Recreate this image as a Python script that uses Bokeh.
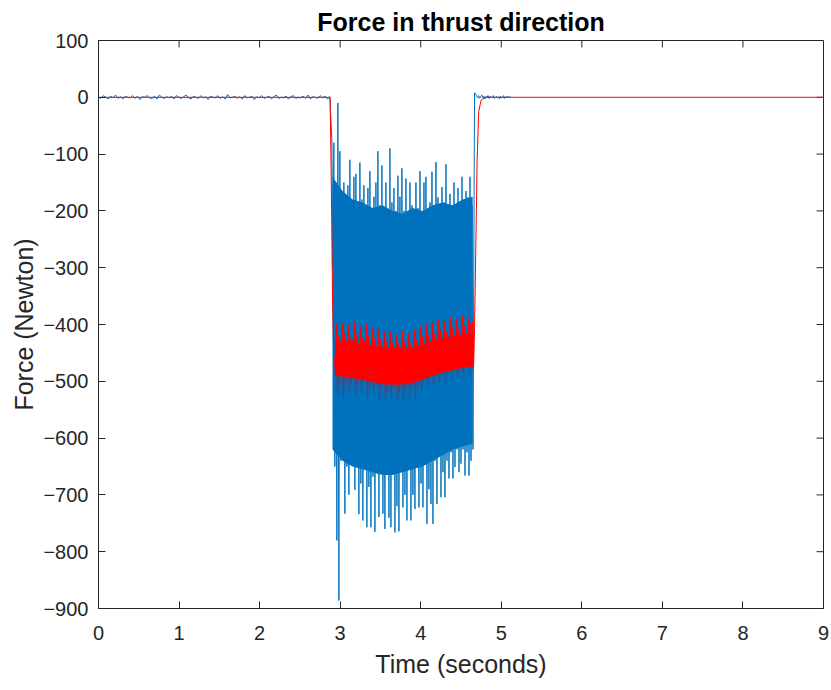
import numpy as np
from bokeh.plotting import figure
from bokeh.models import Range1d, FixedTicker
from bokeh.embed import file_html
from bokeh.resources import INLINE

# ---------------- data ----------------
x_ticks = [0, 1, 2, 3, 4, 5, 6, 7, 8, 9]
y_ticks = [-900, -800, -700, -600, -500, -400, -300, -200, -100, 0, 100]

# blue (raw) signal: rest period before the thrust
blue_pre_v = [1, -2, 3, 0, -3, 2, -1, 4, -2, 1, -3, 2, 0, -1, 3, -2, 2, -4, 1, 0,
              3, -1, -2, 2, -3, 4, 0, -2, 1, -1, 2, -3, 3, 0, -2, 1, 4, -1, -3, 2,
              0, -2, 3, -1, 1, -4, 2, 0, -1, 3, -2, 1, -3, 5, -1, 0, 2, -2, 1, -3,
              3, -1, 0, 2, -4, 1, -1, 3, -2, 0, 2, -3, 1, 4, -2, 0, -1, 2, -3, 1,
              3, -2, 0, -1, 2, -2, 4, -3, 1, 0, -2, 3, -1, 2, -3, 1]
blue_pre_span = [0.0, 2.872]

# blue signal during the thrust: successive peaks (hi) and troughs (lo)
blue_hi = [-75, -80, -185, -10, -95, -190, -150, -205, -155, -110, -200, -140, -135, -195,
           -115, -180, -155, -210, -160, -130, -200, -175, -150, -95, -190, -120, -205, -150,
           -230, -90, -185, -160, -200, -138, -175, -125, -200, -143, -210, -150, -190, -245,
           -150, -195, -130, -215, -150, -140, -240, -185, -131, -200, -114, -176, -205, -158,
           -185, -118, -200, -170, -190, -150, -210, -160, -195, -140, -200, -165, -176, -140,
           -190]
blue_lo = [-300, -650, -780, -886, -640, -620, -733, -650, -700, -640, -643, -691, -650, -734,
           -680, -745, -640, -757, -686, -757, -668, -765, -662, -739, -650, -733, -760, -645,
           -740, -757, -655, -766, -720, -764, -650, -722, -700, -745, -650, -745, -700, -725,
           -640, -722, -680, -722, -640, -751, -690, -716, -751, -640, -716, -630, -704, -660,
           -704, -640, -671, -625, -671, -651, -620, -660, -645, -620, -666, -625, -666, -640,
           -620]
blue_thrust_span = [2.897, 4.649]

# solid part of the blue oscillation (where the trace is densely filled)
blue_band_top = [-140, -165, -180, -185, -195, -190, -200, -205, -195, -200, -190, -185,
                 -190, -180, -175]
blue_band_bot = [-620, -640, -650, -655, -660, -665, -665, -660, -655, -650, -640, -630,
                 -620, -615, -610]
blue_band_span = [2.905, 4.645]

# blue signal after the thrust
blue_post_v = [8, 6, 2, -1, 3, -2, 1, 4, -1, 2, -3, 1, 0, 3, -2, 2, -1, 1, 3, -2,
               0, 2, -1, 1, -3, 2, 0, -1, 3, -2, 1, 0, 2, -1, 1, 0]
blue_post_span = [4.668, 5.12]

# red (filtered) signal
red_pre_t = [0.0, 2.875]
red_pre_v = [0, 0]
red_drop_t = [2.89, 2.905, 2.92]
red_drop_v = [-150, -350, -460]
red_hi = [-460, -400, -420, -432, -398, -415, -430, -402, -425, -428, -396, -418, -435, -404,
          -422, -430, -400, -419, -436, -407, -425, -438,
          -410, -428, -442, -414, -430, -445, -412, -432, -440, -418, -435, -446, -413, -429,
          -441, -416, -433, -444, -408, -426, -438,
          -404, -421, -434, -400, -418, -430, -397, -415, -428, -392, -410, -425, -394, -412,
          -424, -388, -405, -420, -390, -408, -418, -385, -402, -415, -388, -400, -395]
red_lo = [-490, -525, -505, -488, -530, -508, -492, -522, -503, -486, -527, -510, -494, -520,
          -500, -490, -528, -512, -495, -524, -506, -492,
          -532, -515, -500, -536, -518, -504, -530, -512, -498, -538, -520, -506, -534, -516,
          -502, -533, -514, -500, -528, -510, -497,
          -518, -500, -488, -512, -496, -482, -510, -494, -480, -505, -490, -476, -502, -486,
          -474, -498, -484, -470, -495, -480, -468, -492, -476, -466, -488, -472, -478]
red_thrust_span = [2.93, 4.655]
red_rise_t = [4.665, 4.68, 4.70, 4.72, 4.75, 4.80, 9.0]
red_rise_v = [-430, -300, -110, -25, -5, 0, 0]

# solid part of the red band
red_band_top = [-430, -430, -432, -435, -438, -440, -442, -442, -440, -436, -430, -424,
                -420, -418, -416]
red_band_bot = [-490, -492, -495, -498, -502, -505, -506, -505, -502, -496, -490, -484,
                -480, -476, -474]
red_band_span = [2.935, 4.65]

# ---------------- assemble series ----------------
blue_thrust_v = [v for pair in zip(blue_hi, blue_lo) for v in pair]
blue_t = np.concatenate([
    np.linspace(blue_pre_span[0], blue_pre_span[1], len(blue_pre_v)),
    np.linspace(blue_thrust_span[0], blue_thrust_span[1], len(blue_thrust_v)),
    np.linspace(blue_post_span[0], blue_post_span[1], len(blue_post_v)),
])
blue_v = np.array(blue_pre_v + blue_thrust_v + blue_post_v, dtype=float)
blue_band_t = np.linspace(blue_band_span[0], blue_band_span[1], len(blue_band_top))

red_thrust_v = [v for pair in zip(red_hi, red_lo) for v in pair]
red_t = np.concatenate([
    np.array(red_pre_t), np.array(red_drop_t),
    np.linspace(red_thrust_span[0], red_thrust_span[1], len(red_thrust_v)),
    np.array(red_rise_t),
])
red_v = np.array(red_pre_v + red_drop_v + red_thrust_v + red_rise_v, dtype=float)
red_band_t = np.linspace(red_band_span[0], red_band_span[1], len(red_band_top))

# ---------------- figure ----------------
FONT = "Liberation Sans"
TXT = "#262626"
BLUE = "#0072BD"
RED = "#FF0000"
W, H = 831, 690
BL, BR, BT, BB = 98, 8, 40, 82
X0, X1, Y0, Y1 = 0, 9, -900, 100

p = figure(width=W, height=H, output_backend="svg", toolbar_location=None,
           x_range=Range1d(X0, X1), y_range=Range1d(Y0, Y1),
           min_border_left=BL, min_border_right=BR, min_border_top=BT, min_border_bottom=BB,
           background_fill_color="white", border_fill_color="white")

p.title.text = "Force in thrust direction"
p.title.align = "center"
p.title.text_font = FONT
p.title.text_font_size = "25px"
p.title.text_font_style = "bold"
p.title.text_color = "#000000"
p.title.standoff = 10

p.xgrid.visible = False
p.ygrid.visible = False
p.outline_line_color = TXT
p.outline_line_width = 1

TICK = 7
for ax, ticks in ((p.xaxis[0], x_ticks), (p.yaxis[0], y_ticks)):
    ax.ticker = FixedTicker(ticks=ticks)
    ax.major_tick_in = TICK
    ax.major_tick_out = 0
    ax.minor_tick_in = 0
    ax.minor_tick_out = 0
    ax.axis_line_color = TXT
    ax.major_tick_line_color = TXT
    ax.major_label_text_font = FONT
    ax.major_label_text_font_size = "20px"
    ax.major_label_text_color = TXT
    ax.axis_label_text_font = FONT
    ax.axis_label_text_font_size = "25px"
    ax.axis_label_text_font_style = "normal"
    ax.axis_label_text_color = TXT

p.xaxis.axis_label = "Time (seconds)"
p.yaxis.axis_label = "Force (Newton)"
p.xaxis.major_label_standoff = 17
p.yaxis.major_label_standoff = 10
p.xaxis.axis_label_standoff = 7
p.yaxis.axis_label_standoff = 2

# inward tick marks on the top and right edges of the box (no labels there)
tick_dy = TICK * (Y1 - Y0) / (H - BT - BB)
tick_dx = TICK * (X1 - X0) / (W - BL - BR)
p.segment(x0=x_ticks, y0=[Y1] * len(x_ticks), x1=x_ticks, y1=[Y1 - tick_dy] * len(x_ticks),
          line_color=TXT, line_width=1)
p.segment(x0=[X1] * len(y_ticks), y0=y_ticks, x1=[X1 - tick_dx] * len(y_ticks), y1=y_ticks,
          line_color=TXT, line_width=1)

p.varea(x=blue_band_t, y1=blue_band_bot, y2=blue_band_top, fill_color=BLUE, fill_alpha=1.0)
p.line(blue_t, blue_v, line_color=BLUE, line_width=1)
p.varea(x=red_band_t, y1=red_band_bot, y2=red_band_top, fill_color=RED, fill_alpha=1.0)
p.line(red_t, red_v, line_color=RED, line_width=1)

open("out.html", "w").write(file_html(p, INLINE))
